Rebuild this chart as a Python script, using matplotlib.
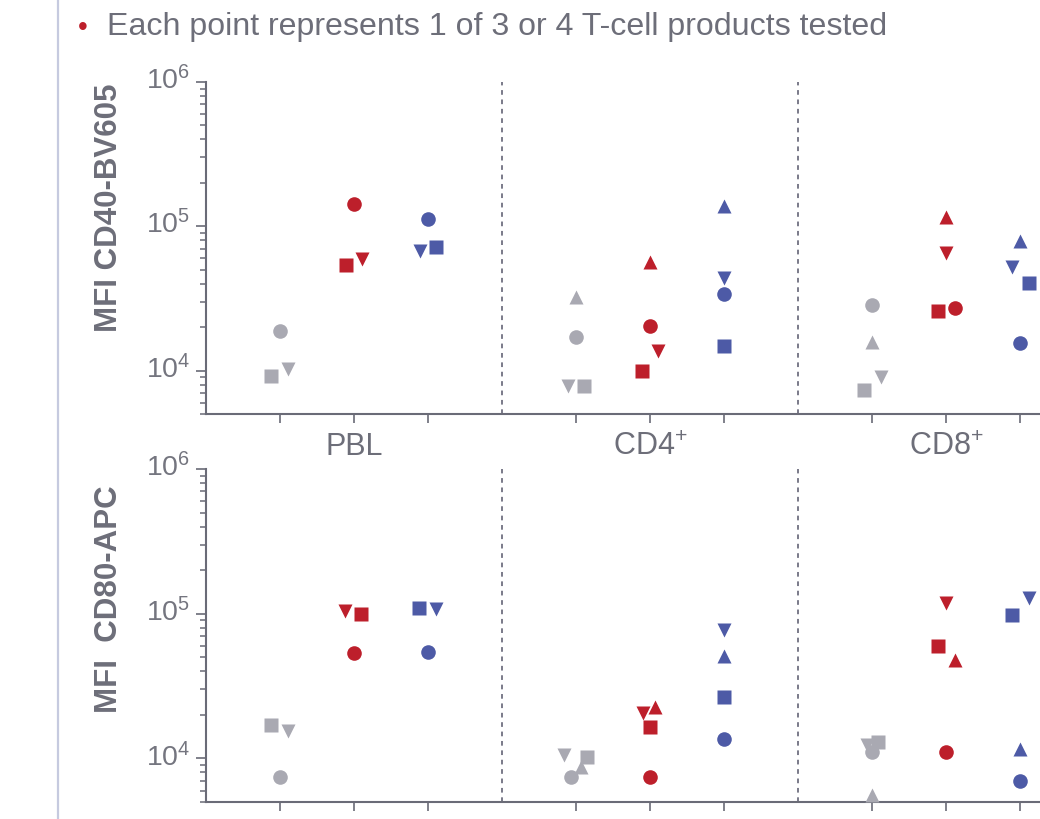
import matplotlib
matplotlib.use("Agg")
import matplotlib.pyplot as plt
import matplotlib.transforms as mtransforms
from matplotlib.lines import Line2D
from matplotlib.ticker import LogLocator, LogFormatterSciNotation, NullFormatter

plt.rcParams['font.family'] = ['Liberation Sans', 'DejaVu Sans']
plt.rcParams['mathtext.fontset'] = 'custom'
plt.rcParams['mathtext.rm'] = 'Liberation Sans'
plt.rcParams['mathtext.it'] = 'Liberation Sans:italic'
plt.rcParams['mathtext.bf'] = 'Liberation Sans:bold'

# groups of cells, each with three conditions (gray, red, blue)
groups = ["PBL", r"CD4$^{+}$", r"CD8$^{+}$"]
group_pos = [[0, 1, 2], [4, 5, 6], [8, 9, 10]]
separators = [3, 7]
products = ["o", "s", "v", "^"]   # one marker per T-cell product
cond_colors = ["#a9a9b2", "#bd1f2b", "#4d5aa6"]

# MFI CD40-BV605, per position: values for circle, square, down, up (None = not tested)
cd40 = [
    [18900, 9230, 10200, None],
    [143000, 54200, 59600, None],
    [112800, 72100, 67600, None],
    [17200, 7870, 7870, 32500],
    [20500, 10000, 13700, 56700],
    [34100, 14700, 44000, 138600],
    [28700, 7280, 8960, 15900],
    [27300, 26000, 65700, 116000],
    [15600, 40600, 52500, 79400],
]
cd40_jit = [
    [0, -0.12, 0.11, 0],
    [0, -0.11, 0.11, 0],
    [0, 0.11, -0.11, 0],
    [0, 0.11, -0.11, 0],
    [0, -0.11, 0.11, 0],
    [0, 0, 0, 0],
    [0, -0.11, 0.12, 0],
    [0.12, -0.11, 0, 0],
    [0, 0.12, -0.11, 0],
]

# MFI CD80-APC
cd80 = [
    [7500, 16900, 15400, None],
    [53300, 99300, 104000, None],
    [54200, 109000, 107000, None],
    [7500, 10300, 10500, 8670],
    [7500, 16400, 20500, 22500],
    [13700, 26400, 76900, 50800],
    [11000, 12900, 12300, 5550],
    [11000, 59600, 118000, 47700],
    [6930, 97700, 128000, 11700],
]
cd80_jit = [
    [0, -0.12, 0.11, 0],
    [0, 0.10, -0.12, 0],
    [0, -0.12, 0.11, 0],
    [-0.07, 0.15, -0.16, 0.07],
    [0, 0, -0.09, 0.07],
    [0, 0, 0, 0],
    [0, 0.08, -0.07, 0],
    [0, -0.11, 0, 0.12],
    [0, -0.11, 0.12, 0],
]

panels = [("MFI CD40-BV605", cd40, cd40_jit), ("MFI  CD80-APC", cd80, cd80_jit)]

axis_col = "#6a6b77"
text_col = "#6d6e79"

W, H = 1040, 819
fig = plt.figure(figsize=(W / 100, H / 100), dpi=100)

# (left, top, bottom, label centre) in pixels
ax_boxes = [(206, 82, 414, 208), (206, 469, 802, 599)]
axes = []
for (left, top, bot, yc), (ylab, vals, jit) in zip(ax_boxes, panels):
    ax = fig.add_axes([left / W, 1 - bot / H, 1 - left / W, (bot - top) / H])
    axes.append(ax)
    ax.set_yscale("log")
    ax.set_ylim(5000, 1e6)
    ax.set_xlim(-1, 10.27)
    for sep in separators:
        ax.axvline(sep, color="#6f7080", lw=1.3, ls=(0, (2.6, 2.6)), zorder=1)
    flat_pos = [p for g in group_pos for p in g]
    for i, x in enumerate(flat_pos):
        col = cond_colors[i % 3]
        for k, m in enumerate(products):
            v = vals[i][k]
            if v is None:
                continue
            ax.plot(x + jit[i][k], v, marker=m, ms=10.5, color=col,
                    mec="none", ls="none", zorder=3, clip_on=False)
    ax.set_xticks(flat_pos)
    ax.set_xticklabels([])
    ax.yaxis.set_major_locator(LogLocator(base=10, numticks=10))
    ax.yaxis.set_minor_locator(LogLocator(base=10, subs=range(2, 10), numticks=20))
    ax.yaxis.set_major_formatter(LogFormatterSciNotation())
    ax.yaxis.set_minor_formatter(NullFormatter())
    for s in ["top", "right"]:
        ax.spines[s].set_visible(False)
    for s in ["left", "bottom"]:
        ax.spines[s].set_color(axis_col)
        ax.spines[s].set_linewidth(1.5)
    ax.tick_params(axis="y", which="major", length=7.5, width=1.2, color=axis_col,
                   labelsize=20.5, labelcolor="#74757f", pad=4)
    ax.tick_params(axis="y", which="minor", length=4.5, width=1.1, color=axis_col)
    ax.tick_params(axis="x", length=6.5, width=1.2, color=axis_col)
    shift = mtransforms.ScaledTranslation(0, 3 / 72, fig.dpi_scale_trans)
    for lab in ax.get_yticklabels():
        lab.set_transform(lab.get_transform() + shift)
    fig.text(109 / W, 1 - yc / H, ylab, rotation=90, ha="center", va="center",
             fontsize=22.5, fontweight="bold", color=text_col)

# category labels under top panel
trans = mtransforms.blended_transform_factory(axes[0].transData, fig.transFigure)
for name, g in zip(groups, group_pos):
    axes[0].text(g[1], 1 - 455 / H, name, transform=trans, ha="center",
                 va="baseline", fontsize=22, color=text_col)

# header bullet text
fig.text(78 / W, 1 - 35 / H, "\u2022", fontsize=20, color="#bd1f2b", va="baseline")
fig.text(107 / W, 1 - 35 / H, "Each point represents 1 of 3 or 4 T-cell products tested",
         fontsize=23.1, color=text_col, va="baseline")

# slide side rule
fig.add_artist(Line2D([58 / W, 58 / W], [0, 1], color="#c6cadf", lw=1.6))

fig.savefig("out.png", dpi=100)
